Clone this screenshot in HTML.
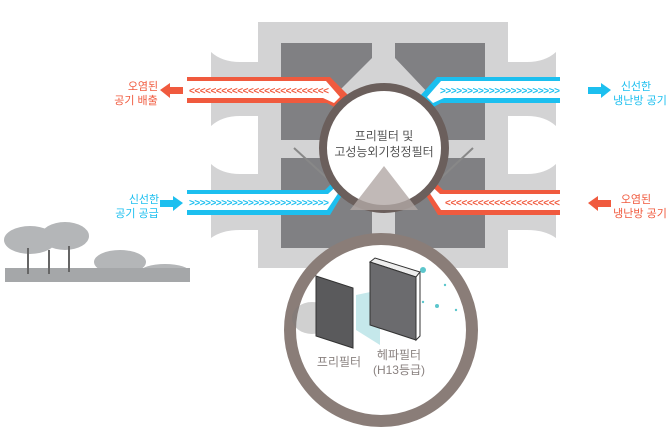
<!DOCTYPE html>
<html><head><meta charset="utf-8"><style>
body{margin:0;width:670px;height:438px;background:#fff;overflow:hidden;font-family:"Liberation Sans","Noto Sans CJK KR",sans-serif}
svg{position:absolute;left:0;top:0}
</style></head><body>
<svg width="670" height="438" viewBox="0 0 670 438">
<defs>
<clipPath id="bc"><circle cx="381" cy="330" r="91"/></clipPath>
</defs>
<!-- body -->
<rect x="258" y="22" width="250" height="246" fill="#d3d3d4"/>
<rect x="211" y="52" width="47" height="188" fill="#d3d3d4"/>
<rect x="508" y="52" width="48" height="188" fill="#d3d3d4"/>
<g fill="#fff">
<path d="M211 40 V52 Q222 62 240 62 H258 V40 Z"/>
<path d="M258 116 H240 Q222 116 211 126 V164 Q222 174 240 174 H258 Z"/>
<path d="M211 242 V238 Q222 230 240 230 H258 V242 Z"/>
<path d="M556 40 V52 Q545 62 527 62 H508 V40 Z"/>
<path d="M508 116 H527 Q545 116 556 126 V164 Q545 174 527 174 H508 Z"/>
<path d="M556 242 V238 Q545 230 527 230 H508 V242 Z"/>
</g>
<path d="M281 43 H372 V58 L335 95 V140 H281 Z" fill="#808083"/>
<path d="M395 43 H485 V140 H430 V95 L395 58 Z" fill="#808083"/>
<rect x="281" y="158" width="91" height="90" fill="#808083"/>
<rect x="395" y="158" width="90" height="90" fill="#808083"/>
<line x1="294" y1="148" x2="340" y2="190" stroke="#888" stroke-width="2"/>
<line x1="473" y1="148" x2="428" y2="190" stroke="#888" stroke-width="2"/>
<!-- bands -->
<g font-size="10" font-weight="bold">
<path d="M187 77 H330 L350 97 L340 110 L327 103 H187 Z" fill="#f05a3e"/>
<path d="M187 81 H326 L340 97 L334 103 L323 98 H187 Z" fill="#fff"/>
<text x="189" y="94" fill="#f05a3e" textLength="140" lengthAdjust="spacing">&lt;&lt;&lt;&lt;&lt;&lt;&lt;&lt;&lt;&lt;&lt;&lt;&lt;&lt;&lt;&lt;&lt;&lt;&lt;&lt;&lt;&lt;&lt;&lt;&lt;&lt;</text>
<path d="M160 90 L170 83 V87 H183 V94 H170 V98 Z" fill="#f05a3e"/>

<path d="M560 77 H437 L419 97 L428 110 L441 103 H560 Z" fill="#1cbfef"/>
<path d="M560 81 H441 L427 97 L433 103 L444 98 H560 Z" fill="#fff"/>
<text x="440" y="94" fill="#1cbfef" textLength="120" lengthAdjust="spacing">&gt;&gt;&gt;&gt;&gt;&gt;&gt;&gt;&gt;&gt;&gt;&gt;&gt;&gt;&gt;&gt;&gt;&gt;&gt;&gt;&gt;&gt;</text>
<path d="M611 90 L601 83 V87 H588 V94 H601 V98 Z" fill="#1cbfef"/>

<path d="M187 190 H325 L343 172 L350 182 L330 215 H187 Z" fill="#1cbfef"/>
<path d="M187 194 H328 L343 180 L345 183 L327 210 H187 Z" fill="#fff"/>
<text x="189" y="206" fill="#1cbfef" textLength="140" lengthAdjust="spacing">&gt;&gt;&gt;&gt;&gt;&gt;&gt;&gt;&gt;&gt;&gt;&gt;&gt;&gt;&gt;&gt;&gt;&gt;&gt;&gt;&gt;&gt;&gt;&gt;&gt;&gt;</text>
<path d="M183 203 L173 196 V200 H160 V207 H173 V211 Z" fill="#1cbfef"/>

<path d="M560 190 H443 L425 172 L418 182 L438 215 H560 Z" fill="#f05a3e"/>
<path d="M560 194 H440 L425 180 L423 183 L441 210 H560 Z" fill="#fff"/>
<text x="445" y="206" fill="#f05a3e" textLength="115" lengthAdjust="spacing">&lt;&lt;&lt;&lt;&lt;&lt;&lt;&lt;&lt;&lt;&lt;&lt;&lt;&lt;&lt;&lt;&lt;&lt;&lt;&lt;&lt;</text>
<path d="M588 203 L598 196 V200 H611 V207 H598 V211 Z" fill="#f05a3e"/>
</g>
<!-- small circle -->
<circle cx="384" cy="148" r="61" fill="#fff" stroke="#6b5f5c" stroke-width="8"/>
<path d="M384 166 L350 210 H418 Z" fill="#b2a8a5" opacity="0.8"/>
<!-- big circle -->
<circle cx="381" cy="330" r="91" fill="#fff" stroke="#8a7d78" stroke-width="12"/>
<g clip-path="url(#bc)">
<ellipse cx="312" cy="318" rx="20" ry="16" fill="#777" opacity="0.35"/>
<path d="M316 276 L353 288 L353 348 L316 336 Z" fill="#5a5a5c" stroke="#333" stroke-width="1"/>
<path d="M356 295 L380 290 L380 345 L356 330 Z" fill="#9fd8de" opacity="0.6"/>
<path d="M370 262 L375 258 L420 272 L416 277 Z" fill="#eee" stroke="#333" stroke-width="1"/>
<path d="M370 262 L416 277 L416 340 L370 325 Z" fill="#6b6b6e" stroke="#333" stroke-width="1"/>
<path d="M416 277 L420 272 L420 336 L416 340 Z" fill="#fff" stroke="#333" stroke-width="1"/>
<g fill="#5cc6cc"><circle cx="423" cy="270" r="3"/><circle cx="452" cy="267" r="2"/><circle cx="437" cy="306" r="2"/><circle cx="465" cy="290" r="1.5"/><circle cx="445" cy="285" r="1.2"/><circle cx="456" cy="310" r="1.2"/><circle cx="423" cy="302" r="1.2"/></g>
</g>
<!-- trees -->
<g fill="#b4b6b8">
<ellipse cx="30" cy="240" rx="26" ry="14"/><ellipse cx="65" cy="236" rx="24" ry="14"/><ellipse cx="120" cy="262" rx="26" ry="12"/>
<ellipse cx="165" cy="272" rx="25" ry="8"/>
</g>
<rect x="5" y="268" width="185" height="14" fill="#a5a7a9"/>
<g fill="#666"><rect x="27" y="248" width="2" height="26"/><rect x="68" y="246" width="2" height="26"/><rect x="48" y="250" width="2" height="24"/></g>
<!-- texts -->
<g font-size="11" text-anchor="middle">
<text x="143" y="90" fill="#f05a3e">오염된</text><text x="136" y="104" fill="#f05a3e">공기 배출</text>
<text x="636" y="90" fill="#1cbfef">신선한</text><text x="640" y="104" fill="#1cbfef">냉난방 공기</text>
<text x="144" y="203" fill="#1cbfef">신선한</text><text x="137" y="217" fill="#1cbfef">공기 공급</text>
<text x="636" y="203" fill="#f05a3e">오염된</text><text x="640" y="217" fill="#f05a3e">냉난방 공기</text>
<text x="384" y="140" fill="#555" font-size="12">프리필터 및</text>
<text x="384" y="156" fill="#555" font-size="12">고성능외기청정필터</text>
<text x="339" y="366" fill="#8a8280" font-size="12">프리필터</text>
<text x="399" y="359" fill="#8a8280" font-size="12">헤파필터</text>
<text x="399" y="374" fill="#8a8280" font-size="12">(H13등급)</text>
</g>
</svg>
</body></html>
